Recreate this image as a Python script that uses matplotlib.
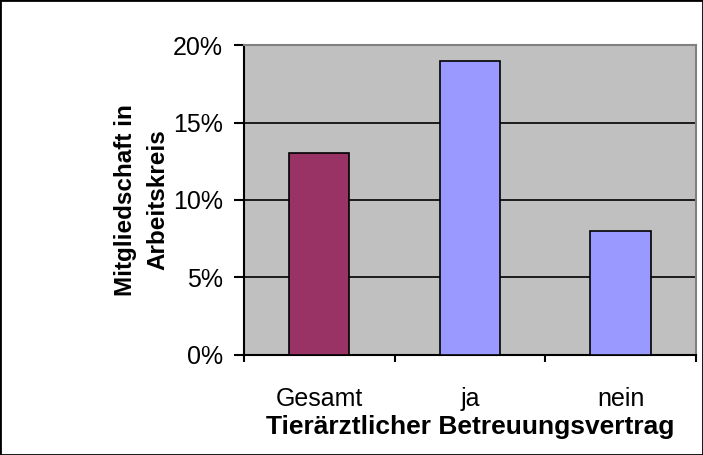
import matplotlib.pyplot as plt
from matplotlib.patches import Rectangle
from matplotlib.ticker import FixedLocator, PercentFormatter

categories = ['Gesamt', 'ja', 'nein']
values = [13, 19, 8]
colors = ['#993366', '#9999FF', '#9999FF']

plt.rcParams['font.family'] = ['Liberation Sans', 'DejaVu Sans']

fig = plt.figure(figsize=(7.03, 4.55), dpi=100)
fig.patches.append(Rectangle((0, 0), 1, 1, transform=fig.transFigure,
                             fill=False, edgecolor='black', linewidth=2))

ax = fig.add_axes([0.347, 0.22, 0.643, 0.681])
ax.set_facecolor('#C0C0C0')

x = list(range(len(categories)))
ax.bar(x, values, width=0.4, color=colors, edgecolor='black', linewidth=1.2, zorder=3)

ax.set_xlim(-0.5, 2.5)
ax.set_ylim(0, 20)
ax.set_yticks([0, 5, 10, 15, 20])
ax.yaxis.set_major_formatter(PercentFormatter(decimals=0))
ax.grid(axis='y', color='black', linewidth=1.2, zorder=1)

ax.set_xticks(x)
ax.set_xticklabels(categories)
ax.xaxis.set_minor_locator(FixedLocator([-0.5, 0.5, 1.5, 2.5]))
ax.tick_params(axis='x', which='major', length=0, pad=23, labelsize=18)
ax.tick_params(axis='x', which='minor', length=5, width=1.5, direction='out')
ax.tick_params(axis='y', length=7, width=1.5, direction='out', labelsize=18, pad=8)

for side in ['top', 'right']:
    ax.spines[side].set_color('#808080')
    ax.spines[side].set_linewidth(1.5)
for side in ['left', 'bottom']:
    ax.spines[side].set_linewidth(1.5)

ax.set_xlabel('Tierärztlicher Betreuungsvertrag', fontsize=19, fontweight='bold', labelpad=3)
ax.set_ylabel('Mitgliedschaft in\nArbeitskreis', fontsize=17.5, fontweight='bold',
              labelpad=3, linespacing=1.5)

fig.savefig('out.png', dpi=100)
